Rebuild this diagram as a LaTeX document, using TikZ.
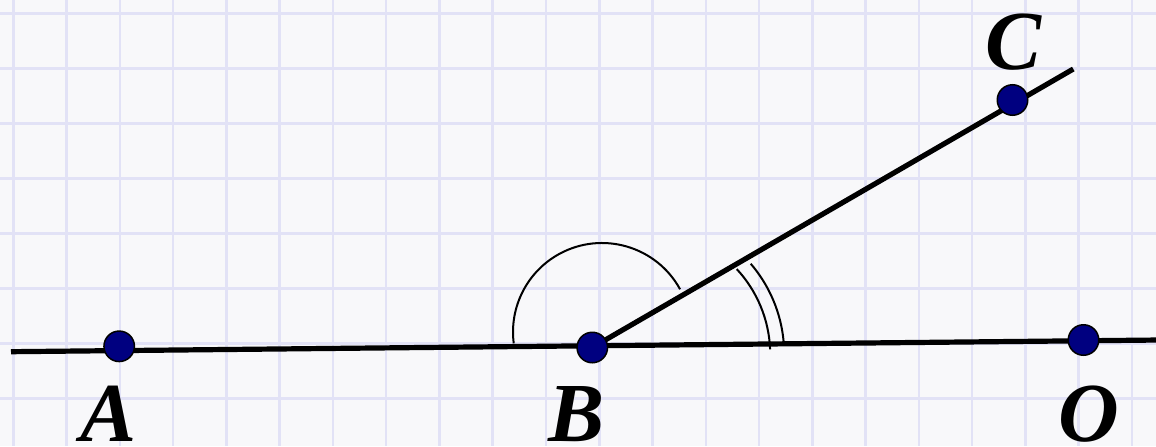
\documentclass[tikz,border=0pt]{standalone}
\usepackage{fontspec}
\setmainfont{Liberation Serif}
\definecolor{bgc}{RGB}{248,248,250}
\definecolor{gridc}{RGB}{226,226,246}
\definecolor{dotc}{RGB}{0,0,128}
\begin{document}
\begin{tikzpicture}[x=0.5pt,y=0.5pt,
  ptdot/.style={circle,fill=dotc,draw=black,line width=0.75pt,minimum size=15.25pt,inner sep=0pt},
  lbl/.style={anchor=base,inner sep=0pt,font=\fontsize{42}{48}\selectfont\bfseries\itshape},
  gridline/.style={draw=gridc,line width=1.25pt},
  mainline/.style={draw=black,line width=2.6pt},
  anglemark/.style={draw=black,line width=1pt}]
\useasboundingbox (0,0) rectangle (1156,446);
\fill[bgc] (0,0) rectangle (1156,446);
\clip (0,0) rectangle (1156,446);
% grid
\foreach \i in {0,...,21} \draw[gridline] ({13.3+53.27*\i},0) -- ({13.3+53.27*\i},446);
\foreach \j in {0,...,7} \draw[gridline] (0,{432.7-55*\j}) -- (1156,{432.7-55*\j});
% points
\coordinate (a) at (119.2,99.7);
\coordinate (b) at (592.3,98.5);
\coordinate (o) at (1083.5,106);
\coordinate (c) at (1012.5,346);
\coordinate (L1) at (11,94.3);
\coordinate (L2) at (1160,106);
\coordinate (Cend) at (1073.3,377);
% lines
\draw[mainline] (L1) -- (L2);
\draw[mainline] (b) -- (Cend);
% angle marks
\draw[anglemark] (602,114) ++(28.7:89) arc[start angle=28.7,end angle=187.3,radius=89];
\draw[anglemark] (645.2,91.8) ++(2.2:125) arc[start angle=2.2,end angle=42.9,radius=125];
\draw[anglemark] (645.2,91.8) ++(5.1:139) arc[start angle=5.1,end angle=40.6,radius=139];
% dots
\node[ptdot] (A) at (a) {};
\node[ptdot] (B) at (b) {};
\node[ptdot] (O) at (o) {};
\node[ptdot] (C) at (c) {};
% labels
\node[lbl] (lA) at (109,5) {A};
\node[lbl] (lB) at (577,5) {B};
\node[lbl] (lO) at (1089,5) {O};
\node[lbl] (lC) at (1013,377) {C};
\end{tikzpicture}
\end{document}
